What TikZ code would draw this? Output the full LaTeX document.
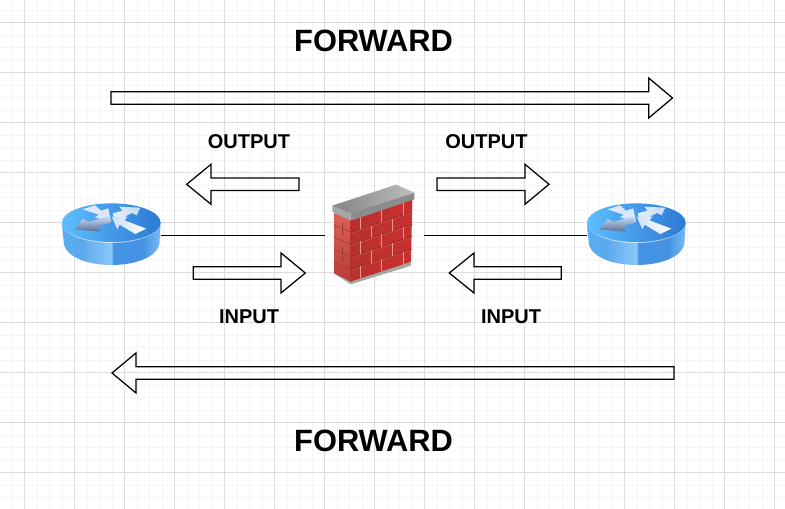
\documentclass[tikz,border=0pt]{standalone}
\usepackage{fontspec}
\setmainfont{Liberation Sans}
\definecolor{minorgrid}{HTML}{F5F5F5}
\definecolor{majorgrid}{HTML}{DCDCDC}
\definecolor{arrowA}{HTML}{DCE8FA}
\definecolor{arrowdark}{HTML}{5A6E98}
\definecolor{arrowlight}{HTML}{CFE0F8}
\definecolor{arrowC}{HTML}{E4EEFA}
\definecolor{arrowCb}{HTML}{C4DAF4}
\definecolor{arrowD}{HTML}{CFE0F6}
\definecolor{leftbrickmortar}{HTML}{9A3C3A}
\definecolor{frontmortar}{HTML}{8E2C2A}
\definecolor{lightmortar}{HTML}{CF6058}
\definecolor{jointcolor}{HTML}{E59A92}
\pgfdeclarehorizontalshading{routertop}{100bp}{
  rgb(0bp)=(.36,.75,.99);
  rgb(25bp)=(.36,.75,.99);
  rgb(50bp)=(.27,.60,.91);
  rgb(75bp)=(.17,.48,.83);
  rgb(100bp)=(.17,.48,.83)}
\pgfdeclarehorizontalshading{routerside}{100bp}{
  rgb(0bp)=(.35,.68,.95);
  rgb(25bp)=(.35,.68,.95);
  rgb(35bp)=(.36,.66,.93);
  rgb(50bp)=(.55,.78,.98);
  rgb(51bp)=(.27,.58,.90);
  rgb(66bp)=(.27,.57,.89);
  rgb(75bp)=(.48,.73,.96);
  rgb(100bp)=(.48,.73,.96)}
\pgfdeclarehorizontalshading{capshade}{100bp}{
  rgb(0bp)=(.52,.52,.52);
  rgb(25bp)=(.52,.52,.52);
  rgb(75bp)=(.74,.74,.74);
  rgb(100bp)=(.74,.74,.74)}
\pgfdeclarehorizontalshading{brickfront}{100bp}{
  rgb(0bp)=(.72,.19,.17);
  rgb(25bp)=(.72,.19,.17);
  rgb(75bp)=(.79,.19,.19);
  rgb(100bp)=(.79,.19,.19)}
\pgfdeclareverticalshading{brickleft}{100bp}{
  rgb(0bp)=(.72,.24,.23);
  rgb(25bp)=(.72,.24,.23);
  rgb(75bp)=(.86,.38,.34);
  rgb(100bp)=(.86,.38,.34)}
\tikzset{
  blockarrow/.style={draw=black,line width=1.25pt,line join=miter,fill=none},
  link/.style={draw=black,line width=1pt},
  bigtitle/.style={font=\bfseries\fontsize{30.8}{31}\selectfont,anchor=base,inner sep=0pt},
  smalltitle/.style={font=\bfseries\fontsize{20}{20}\selectfont,anchor=base,inner sep=0pt},
  device/.style={inner sep=0pt,outer sep=0pt,draw=none}
}
% tip x, head base x, tail x, centre y
\newcommand\blockarrow[5][6.3]{%
  \path[blockarrow] (#4,#5-#1) -- (#3,#5-#1) -- (#3,#5-20) -- (#2,#5) -- (#3,#5+20) -- (#3,#5+#1) -- (#4,#5+#1) -- cycle;}
\newcommand\routerart[2]{%
\begin{scope}[shift={(#1,#2)},x=.3333pt,y=-.3333pt]
  \shade[shading=routerside] (66,130) -- (72,195) .. controls (85,235) and (150,255) .. (215,255) .. controls (280,255) and (345,235) .. (358,195) -- (362,130) -- cycle;
  \path[fill=white,fill opacity=.6] (214,128) ellipse [x radius=148pt*.3333, y radius=61pt*.3333];
  \shade[shading=routertop] (214,128) ellipse [x radius=148pt*.3333, y radius=58pt*.3333];
  % four arrows
  \path[fill=arrowA] (128,88) -- (165,76) -- (183,92) -- (205,85) -- (213,125) -- (165,112) -- (176,104) -- cycle;
  \shade[top color=arrowlight,middle color=arrowlight,bottom color=arrowdark] (104,148) -- (128,117) -- (146,126) -- (205,108) -- (212,128) -- (176,137) -- (181,155) -- cycle;
  \shade[left color=arrowC,right color=arrowCb] (218,100) -- (247,92) -- (238,80) -- (301,83) -- (290,106) -- (276,99) -- (226,125) -- cycle;
  \shade[left color=arrowD,right color=white] (215,110) -- (263,110) -- (253,121) -- (319,146) -- (286,162) -- (239,134) -- (232,148) -- cycle;
\end{scope}}
\begin{document}
\begin{tikzpicture}[x=1pt,y=-1pt]
\useasboundingbox (0,0) rectangle (785,509);
\fill[white] (0,0) rectangle (785,509);
% grid
\begin{scope}
  \clip (0,0) rectangle (785,509);
  \foreach \k in {-1,...,62} {
    \draw[minorgrid,line width=1pt] ({24.5+12.5*\k},0) -- ({24.5+12.5*\k},509);
  }
  \foreach \k in {-1,...,40} {
    \draw[minorgrid,line width=1pt] (0,{22.5+12.5*\k}) -- (785,{22.5+12.5*\k});
  }
  \foreach \k in {0,...,15} {
    \draw[majorgrid,line width=1pt] ({24.5+50*\k},0) -- ({24.5+50*\k},509);
  }
  \foreach \k in {0,...,9} {
    \draw[majorgrid,line width=1pt] (0,{22.5+50*\k}) -- (785,{22.5+50*\k});
  }
\end{scope}
% devices (anchors for the links)
\node[device,minimum width=99.5pt,minimum height=60pt] (routerL) at (111.5,235) {};
\node[device,minimum width=99.5pt,minimum height=60pt] (routerR) at (636.5,235) {};
\node[device,minimum width=99.5pt,minimum height=100pt] (firewall) at (374.5,235) {};
\draw[link] (routerL.east) -- (firewall.west);
\draw[link] (firewall.east) -- (routerR.west);
\routerart{40}{180}
\routerart{565}{180}
% firewall
\begin{scope}[shift={(310,170)},x=.3333pt,y=-.3333pt]
  \fill[black!35] (75,312) -- (122,343) -- (303,287) -- (303,270) -- (122,325) -- cycle;
  \shade[shading=brickleft] (72,128) -- (122,150) -- (122,335) -- (72,310) -- cycle;
  \shade[shading=brickfront] (122,150) -- (307,88) -- (303,275) -- (122,335) -- cycle;
  % left face courses
  \foreach \a/\b in {165/186,202/223,238/260,275/298} {
    \draw[leftbrickmortar,line width=.6pt] (72,\a) -- (122,\b);
  }
  \draw[leftbrickmortar,line width=.4pt] (97,160) -- (97,197);
  \draw[leftbrickmortar,line width=.4pt] (97,235) -- (97,272);
  % front face courses
  \foreach \a/\b in {187/125,224/162,261/199,298/237} {
    \draw[frontmortar,line width=.7pt] (122,\a) -- (305,\b);
    \draw[lightmortar,line width=.4pt] (122,\a+3) -- (305,\b+3);
  }
  % vertical joints: staggered
  \foreach \x/\t in {152/140,215/119,280/97} {
    \draw[jointcolor,line width=.8pt] (\x,\t) -- (\x,\t+37);
    \draw[jointcolor,line width=.8pt] (\x,\t+74) -- (\x,\t+111);
    \draw[jointcolor,line width=.8pt] (\x,\t+148) -- (\x,\t+185);
  }
  \foreach \x/\t in {183/167,248/146} {
    \draw[jointcolor,line width=.8pt] (\x,\t) -- (\x,\t+37);
    \draw[jointcolor,line width=.8pt] (\x,\t+74) -- (\x,\t+111);
  }
  % cap
  \fill[black!45] (122,128) -- (313,68) -- (313,88) -- (122,152) -- cycle;
  \fill[black!35] (67,107) -- (122,128) -- (122,152) -- (67,125) -- cycle;
  \shade[shading=capshade] (67,107) -- (258,44) -- (313,68) -- (122,130) -- cycle;
\end{scope}
% block arrows
\blockarrow{672.5}{648.7}{111}{98}
\blockarrow{112}{136}{674}{373}
\blockarrow{186.7}{211}{299}{184.3}
\blockarrow{549}{525}{437}{184.3}
\blockarrow{305.3}{281}{193.3}{273}
\blockarrow{449.3}{474}{561.3}{273}
% labels
\node[bigtitle] (forwardT) at (373.5,51.5) {FORWARD};
\node[bigtitle] (forwardB) at (373.5,451.5) {FORWARD};
\node[smalltitle] (outL) at (249,148.5) {OUTPUT};
\node[smalltitle] (outR) at (486.5,148.5) {OUTPUT};
\node[smalltitle] (inL) at (249,323.5) {INPUT};
\node[smalltitle] (inR) at (511,323.5) {INPUT};
\end{tikzpicture}
\end{document}
